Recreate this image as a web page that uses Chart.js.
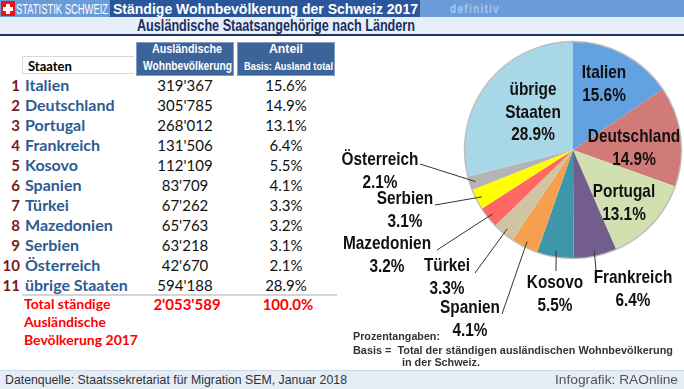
<!DOCTYPE html>
<html>
<head>
<meta charset="utf-8">
<script src="https://cdn.jsdelivr.net/npm/chart.js@4.4.0/dist/chart.umd.min.js"></script>
<style>
  body { margin: 0; width: 684px; height: 389px; overflow: hidden; background: #fff; position: relative; font-family: "Liberation Sans", Arial, sans-serif; }
  .abs { position: absolute; white-space: nowrap; }
  .fit { transform-origin: 0 50%; }
  .cal { font-family: Lato, "Open Sans", sans-serif; }
  .hcell { position: absolute; background: #3d6499; border: 1px solid #7f9fc8; }
  .htxt { color: #fff; font-weight: bold; font-size: 13px; line-height: 16px; }
  #pie { position: absolute; left: 330px; top: 36px; }
</style>
</head>
<body>
<!-- header -->
<div class="abs" style="left:0;top:0;width:684px;height:17px;background:#6b9bd9"></div>
<div class="abs" style="left:110px;top:0;width:310px;height:17px;background:#2a569b"></div>
<div class="abs" style="left:1px;top:1px;width:14px;height:15px;background:#e8141c"></div>
<div class="abs" style="left:6px;top:4px;width:4px;height:10px;background:#fff"></div>
<div class="abs" style="left:3px;top:7px;width:10px;height:4px;background:#fff"></div>
<div class="abs fit" data-w="92" style="left:16px;top:1px;font-size:14px;line-height:16px;color:#fff">STATISTIK SCHWEIZ</div>
<div class="abs fit" data-w="305" style="left:113px;top:0px;font-size:15px;line-height:17px;color:#fff;font-weight:bold">Ständige Wohnbevölkerung der Schweiz 2017</div>
<div class="abs fit" data-w="50" style="left:450px;top:1px;font-size:12px;line-height:16px;color:#a7c8f0;font-weight:bold;letter-spacing:1.5px">definitiv</div>
<div class="abs" style="left:0;top:17px;width:684px;height:17px;background:#e7eef8;border-bottom:2px solid #1f3566"></div>
<div class="abs fit" data-w="278" style="left:137px;top:17px;font-size:17px;line-height:18px;color:#1a2f62;font-weight:bold">Ausländische Staatsangehörige nach Ländern</div>

<!-- table head -->
<div class="abs cal" style="left:22px;top:56px;width:112px;height:18px;border:1px solid #d8d8d8;border-right:none;font-size:13px;line-height:18px;font-weight:bold;padding-left:5px;box-sizing:border-box">Staaten</div>
<div class="hcell" style="left:136px;top:42px;width:96px;height:32px"></div>
<div class="hcell" style="left:237px;top:42px;width:96px;height:32px"></div>
<div class="abs fit htxt" data-w="70" style="left:152px;top:41px">Ausländische</div>
<div class="abs fit htxt" data-w="89" style="left:143px;top:58px">Wohnbevölkerung</div>
<div class="abs fit htxt" data-w="34" style="left:269px;top:41px">Anteil</div>
<div class="abs fit htxt" data-w="89" style="left:244px;top:58px;font-size:11px">Basis: Ausland total</div>
<div id="rows"></div>
<div class="abs" style="left:22px;top:294px;width:315px;height:2px;background:#d4d4d4"></div>

<canvas id="pie" width="354" height="334"></canvas>

<!-- notes -->
<div class="abs fit" data-w="87" style="left:353px;top:331px;font-size:10px;line-height:12px;color:#333;font-weight:bold">Prozentangaben:</div>
<div class="abs fit" data-w="320" style="left:353px;top:345px;font-size:10px;line-height:12px;color:#333;font-weight:bold">Basis =&nbsp; Total der ständigen ausländischen Wohnbevölkerung</div>
<div class="abs fit" data-w="78" style="left:402px;top:357px;font-size:10px;line-height:12px;color:#333;font-weight:bold">in der Schweiz.</div>

<!-- footer -->
<div class="abs" style="left:0;top:370px;width:684px;height:19px;background:#e4ecf6;border-top:1px solid #cdd8e8"></div>
<div class="abs fit" data-w="342" style="left:5px;top:372px;font-size:13px;line-height:16px;color:#333">Datenquelle: Staatssekretariat für Migration SEM, Januar 2018</div>
<div class="abs fit" data-w="123" style="left:555px;top:372px;font-size:13px;line-height:16px;color:#555">Infografik: RAOnline</div>

<script>
const countries = ['Italien', 'Deutschland', 'Portugal', 'Frankreich', 'Kosovo', 'Spanien', 'Türkei', 'Mazedonien', 'Serbien', 'Österreich', 'übrige Staaten'];
const population = [319367, 305785, 268012, 131506, 112109, 83709, 67262, 65763, 63218, 42670, 594188];
const shares = [15.6, 14.9, 13.1, 6.4, 5.5, 4.1, 3.3, 3.2, 3.1, 2.1, 28.9];
const totalPopulation = 2053589;
const totalShare = 100.0;
const sliceColors = ['#64a1e0', '#d07b77', '#d2dfb1', '#725d8c', '#3d96aa', '#f6a04f', '#d1c4a2', '#ff6666', '#ffff00', '#b4b4b4', '#a8d7e7'];

// label placement (page coordinates): centre x, first line y, leader start
const labelLayout = [
    { x: 604, y: 73 },
    { x: 634, y: 137 },
    { x: 624, y: 192 },
    { x: 633, y: 278, lead: [596, 270] },
    { x: 555, y: 283, lead: [556, 271] },
    { x: 470, y: 308, lead: [502, 314] },
    { x: 447, y: 266, lead: [475, 273] },
    { x: 387, y: 244, lead: [437, 250] },
    { x: 405, y: 199, lead: [435, 205] },
    { x: 380, y: 160, lead: [420, 164] },
    { x: 533, y: 90 },
];
const offX = 330, offY = 36;
const labelSquash = 0.81;

const fmt = n => n.toString().replace(/\B(?=(\d{3})+(?!\d))/g, "'");
const pct = v => v.toFixed(1) + '%';

// table rows
const rows = document.getElementById('rows');
let html = '';
countries.forEach((c, i) => {
    const top = 75 + i * 20;
    html += `<div class="abs cal" style="left:0;top:${top}px;width:20px;text-align:right;font-size:15px;line-height:20px;font-weight:bold;color:#7a1c1c">${i + 1}</div>`;
    html += `<div class="abs cal" style="left:25px;top:${top}px;font-size:16px;line-height:20px;font-weight:bold;color:#2f5b8f">${c}</div>`;
    html += `<div class="abs cal" style="left:136px;top:${top}px;width:98px;text-align:center;font-size:15px;line-height:20px;color:#111">${fmt(population[i])}</div>`;
    html += `<div class="abs cal" style="left:238px;top:${top}px;width:96px;text-align:center;font-size:15px;line-height:20px;color:#111">${pct(shares[i])}</div>`;
});
const totalLines = ['Total ständige', 'Ausländische', 'Bevölkerung 2017'];
totalLines.forEach((t, i) => {
    html += `<div class="abs cal" style="left:24px;top:${295 + i * 18}px;font-size:14px;line-height:18px;font-weight:bold;color:#ff0000">${t}</div>`;
});
html += `<div class="abs cal" style="left:136px;top:295px;width:102px;text-align:center;font-size:15px;line-height:18px;font-weight:bold;color:#ff0000">${fmt(totalPopulation)}</div>`;
html += `<div class="abs cal" style="left:238px;top:295px;width:100px;text-align:center;font-size:15px;line-height:18px;font-weight:bold;color:#ff0000">${pct(totalShare)}</div>`;
rows.innerHTML = html;

// squeeze narrow-font texts to the width they have in the picture
document.querySelectorAll('.fit').forEach(el => {
    const w = el.getBoundingClientRect().width;
    el.style.transform = `scaleX(${el.dataset.w / w})`;
});

const pieLabels = {
    id: 'pieLabels',
    afterDatasetsDraw(chart) {
        const ctx = chart.ctx;
        const meta = chart.getDatasetMeta(0);
        const first = meta.data[0];
        ctx.save();
        ctx.beginPath();
        ctx.arc(first.x, first.y, first.outerRadius + 0.5, 0, Math.PI * 2);
        ctx.strokeStyle = 'rgba(140,140,140,0.55)';
        ctx.lineWidth = 1.5;
        ctx.stroke();

        ctx.font = 'bold 19px "Liberation Sans", Arial, sans-serif';
        ctx.textAlign = 'center';
        ctx.textBaseline = 'middle';
        meta.data.forEach((arc, i) => {
            const L = labelLayout[i];
            if (L.lead) {
                const mid = (arc.startAngle + arc.endAngle) / 2;
                const r = arc.outerRadius * 0.95;
                ctx.beginPath();
                ctx.moveTo(L.lead[0] - offX, L.lead[1] - offY);
                ctx.lineTo(arc.x + Math.cos(mid) * r, arc.y + Math.sin(mid) * r);
                ctx.strokeStyle = '#333';
                ctx.lineWidth = 1;
                ctx.stroke();
            }
            const lines = countries[i].split(' ').concat([pct(shares[i])]);
            ctx.fillStyle = '#111';
            lines.forEach((t, k) => {
                const w = ctx.measureText(t).width * labelSquash;
                ctx.fillText(t, L.x - offX, L.y - offY + k * 22.5, w);
            });
        });
        ctx.restore();
    }
};

new Chart(document.getElementById('pie'), {
    type: 'pie',
    data: {
        labels: countries,
        datasets: [{
            data: population,
            backgroundColor: sliceColors,
            borderWidth: 0,
            hoverOffset: 0,
        }],
    },
    options: {
        responsive: false,
        animation: false,
        layout: { padding: { left: 135, right: 3, top: 6, bottom: 112 } },
        plugins: {
            legend: { display: false },
            tooltip: { enabled: false },
        },
    },
    plugins: [pieLabels],
});
</script>
</body>
</html>
